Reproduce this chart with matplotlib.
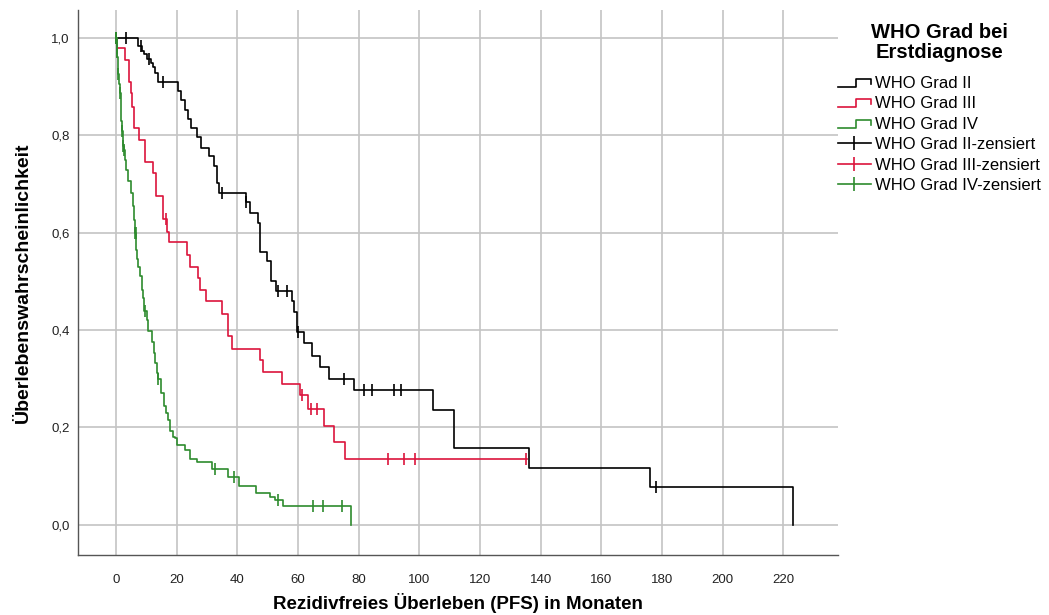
import numpy as np
import matplotlib
matplotlib.use("Agg")
import matplotlib.pyplot as plt
from matplotlib.lines import Line2D
from matplotlib.legend_handler import HandlerBase

plt.rcParams['font.family'] = ['Liberation Sans', 'DejaVu Sans']

# WHO Grad II: Zeitpunkte (Monate) und Überlebensrate nach jedem Schritt
t_ii = [0, 7.4, 8.5, 9.2, 10.1, 11.4, 12.3, 13.0, 13.7, 20.5, 21.3, 22.8, 23.9, 24.7,
        26.8, 27.9, 30.8, 32.4, 33.2, 34.0, 42.9, 44.2, 46.9, 47.5, 49.7, 51.0, 52.9,
        57.9, 58.8, 59.6, 62.0, 64.5, 67.3, 70.1, 78.3, 104.4, 111.5, 136.0, 176.1, 223.2]
s_ii = [1.0, 0.984, 0.974, 0.966, 0.956, 0.948, 0.941, 0.928, 0.910, 0.891, 0.873, 0.852, 0.833, 0.815,
        0.796, 0.774, 0.758, 0.736, 0.702, 0.681, 0.662, 0.641, 0.620, 0.561, 0.541, 0.501, 0.481,
        0.459, 0.437, 0.395, 0.373, 0.347, 0.324, 0.300, 0.276, 0.236, 0.157, 0.117, 0.077, 0.0]
c_ii = [0, 3.2, 8.2, 11.0, 15.4, 34.8, 42.9, 53.5, 56.5, 60.1, 75.0, 81.8, 84.5, 91.5, 94.1, 178.0]

# WHO Grad III
t_iii = [0, 0.2, 3.1, 4.2, 4.8, 5.3, 5.9, 7.6, 9.6, 12.3, 13.2, 15.6, 16.9, 17.6, 23.3, 24.4,
         27.1, 27.7, 29.7, 34.8, 37.0, 38.1, 47.5, 48.4, 54.6, 60.7, 63.2, 68.6, 71.8, 75.4, 135.6]
s_iii = [1.0, 0.979, 0.955, 0.910, 0.886, 0.859, 0.815, 0.791, 0.744, 0.722, 0.676, 0.628, 0.602, 0.580,
         0.554, 0.530, 0.507, 0.483, 0.459, 0.433, 0.387, 0.361, 0.339, 0.313, 0.290, 0.267, 0.238,
         0.203, 0.170, 0.1355, 0.1355]
c_iii = [16.5, 61.2, 64.2, 66.4, 89.5, 95.0, 98.7, 135.2]

# WHO Grad IV
t_iv = [0, 0.2, 0.3, 0.4, 0.5, 0.6, 0.8, 1.0, 1.2, 1.5, 1.8, 2.0, 2.3, 2.5, 2.9, 3.4, 4.0, 5.0,
        5.5, 5.9, 6.2, 6.7, 7.0, 7.4, 7.8, 8.5, 8.9, 9.2, 10.1, 10.7, 11.8, 12.5, 13.0, 13.4,
        13.8, 14.7, 15.8, 16.6, 17.3, 17.8, 18.9, 19.5, 20.0, 22.8, 24.4, 26.6, 31.6, 37.0,
        40.7, 46.2, 50.8, 52.5, 55.0, 77.4]
s_iv = [1.0, 0.990, 0.980, 0.970, 0.960, 0.945, 0.925, 0.905, 0.886, 0.860, 0.830, 0.808, 0.777,
        0.770, 0.750, 0.729, 0.705, 0.681, 0.655, 0.626, 0.599, 0.565, 0.545, 0.530, 0.510, 0.483,
        0.466, 0.440, 0.421, 0.397, 0.376, 0.353, 0.332, 0.312, 0.299, 0.270, 0.243, 0.230, 0.216,
        0.192, 0.181, 0.178, 0.164, 0.154, 0.135, 0.128, 0.114, 0.099, 0.080, 0.065, 0.058, 0.050,
        0.039, 0.0]
c_iv = [0, 0.1, 0.2, 0.3, 0.4, 0.8, 1.3, 2.0, 2.3, 2.5, 6.2, 6.5, 9.6, 14.0, 32.7, 38.9,
        53.5, 64.9, 68.2, 74.4]

gruppen = ["WHO Grad II", "WHO Grad III", "WHO Grad IV"]
farben = ["#000000", "#dc143c", "#2e8b2e"]
x_ticks = np.arange(0, 221, 20)
y_ticks = np.arange(0, 1.01, 0.2)


def surv_at(t, times, surv):
    idx = np.searchsorted(times, t, side='right') - 1
    return np.asarray(surv)[idx]


class StepHandler(HandlerBase):
    # Treppen-Symbol wie in SPSS
    def create_artists(self, legend, orig_handle, xdescent, ydescent, width, height, fontsize, trans):
        x0, y0 = -xdescent, -ydescent
        xs = [x0, x0 + 0.55 * width, x0 + 0.55 * width, x0 + width, x0 + width]
        ys = [y0 + 0.1 * height, y0 + 0.1 * height, y0 + 0.75 * height, y0 + 0.75 * height, y0 + 0.35 * height]
        line = Line2D(xs, ys, color=orig_handle.get_color(), lw=1.2)
        line.set_transform(trans)
        return [line]


fig = plt.figure(figsize=(10.49, 6.15), dpi=100)
ax = fig.add_axes([0.0744, 0.0976, 0.7245, 0.886])

daten = [(t_ii, s_ii, c_ii), (t_iii, s_iii, c_iii), (t_iv, s_iv, c_iv)]
step_handles = []
cens_handles = []
for (t, s, c), name, col in zip(daten, gruppen, farben):
    ln, = ax.plot(t, s, drawstyle='steps-post', color=col, lw=1.2, label=name)
    ax.plot(c, surv_at(c, t, s), ls='none', marker='|', markersize=9, mew=1.2, color=col)
    step_handles.append(ln)
    cens_handles.append(Line2D([], [], color=col, lw=1.2, marker='|', markersize=10, mew=1.2))

ax.set_xlim(-12.5, 238)
ax.set_ylim(-0.062, 1.057)
ax.set_xticks(x_ticks)
ax.set_yticks(y_ticks)
ax.set_yticklabels([f"{v:.1f}".replace('.', ',') for v in y_ticks])
ax.tick_params(length=0, labelsize=9.5, colors='#222222')
ax.tick_params(axis='x', pad=14)
ax.tick_params(axis='y', pad=6)
ax.grid(True, color='#c4c4c4', lw=1.2)
ax.set_axisbelow(True)
for sp in ['top', 'right']:
    ax.spines[sp].set_visible(False)
for sp in ['left', 'bottom']:
    ax.spines[sp].set_color('#555555')
    ax.spines[sp].set_linewidth(1.0)

ax.set_xlabel("Rezidivfreies Überleben (PFS) in Monaten", fontsize=13.5, fontweight='bold', labelpad=5)
ax.set_ylabel("Überlebenswahrscheinlichkeit", fontsize=14, fontweight='bold', labelpad=14)

labels = gruppen + [g + "-zensiert" for g in gruppen]
hmap = {h: StepHandler() for h in step_handles}
leg = fig.legend(step_handles + cens_handles, labels, handler_map=hmap,
                 loc='upper left', bbox_to_anchor=(0.7905, 0.976), frameon=False,
                 fontsize=12, handlelength=2.0, handletextpad=0.25, labelspacing=0.33,
                 borderpad=0, title="WHO Grad bei\nErstdiagnose",
                 title_fontproperties={'weight': 'bold', 'size': 14.5})
leg.get_title().set_multialignment('center')
leg.get_title().set_linespacing(1.05)
leg._legend_box.sep = 10

fig.savefig("out.png", dpi=100)
